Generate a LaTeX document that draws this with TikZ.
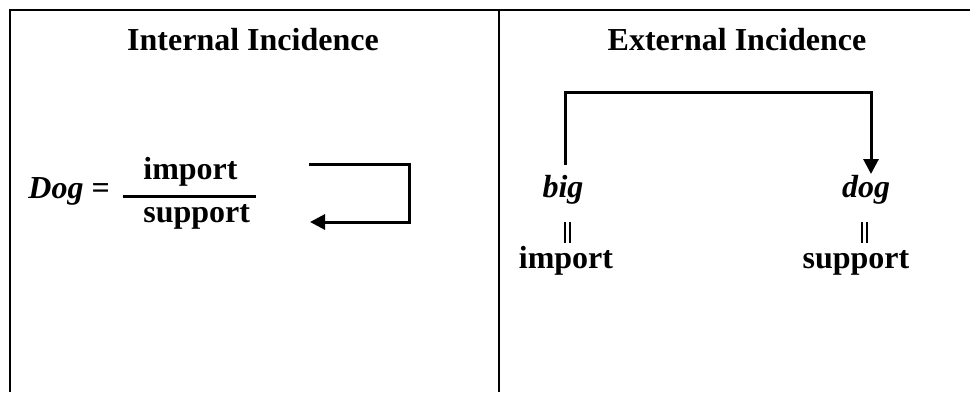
\documentclass[tikz,border=0pt]{standalone}
\usepackage{fontspec}
\setmainfont{Liberation Serif}
\usetikzlibrary{arrows.meta}
\begin{document}
\begin{tikzpicture}[x=0.5pt,y=-0.5pt,
  txt/.style={font=\fontsize{16}{19}\selectfont\bfseries, inner sep=0pt, anchor=base},
  frame/.style={line width=1pt},
  conn/.style={line width=1.5pt},
  arr/.style={line width=1.5pt, -{Triangle[length=7.5pt,width=7.5pt]}},
  bar/.style={line width=1pt}]
\useasboundingbox (0,0) rectangle (970,392);
% frame
\draw[frame] (9.5,392) -- (9.5,9.5) -- (970,9.5);
\draw[frame] (499,9.5) -- (499,392);
% titles
\node[txt] (t1) at (253,50) {Internal Incidence};
\node[txt] (t2) at (737,50) {External Incidence};
% left: Dog = import/support
\node[txt, anchor=base west] (dog) at (28,198) {\textit{Dog} =};
\node[txt, anchor=base west] (num) at (143,179) {import};
\node[txt, anchor=base west] (den) at (143,222) {support};
\coordinate (f1) at (123,196);
\coordinate (f2) at (256,196);
\draw[conn] (f1) -- (f2);
\coordinate (l1) at (309,164);
\coordinate (l2) at (409,164);
\coordinate (l3) at (409,222);
\coordinate (l4) at (310,222);
\draw[arr] (l1) -- (l2) -- (l3) -- (l4);
% right
\node[txt] (big) at (563,197) {\textit{big}};
\node[txt] (dg) at (866,197) {\textit{dog}};
\node[txt] (imp) at (566,268) {import};
\node[txt] (sup) at (856,268) {support};
\coordinate (r1) at (565,165);
\coordinate (r2) at (565,92);
\coordinate (r3) at (871,92);
\coordinate (r4) at (871,174);
\draw[arr] (r1) -- (r2) -- (r3) -- (r4);
\coordinate (b1) at (565,222); \coordinate (b2) at (565,243);
\coordinate (b3) at (570,222); \coordinate (b4) at (570,243);
\draw[bar] (b1) -- (b2); \draw[bar] (b3) -- (b4);
\coordinate (c1) at (862,222); \coordinate (c2) at (862,243);
\coordinate (c3) at (867,222); \coordinate (c4) at (867,243);
\draw[bar] (c1) -- (c2); \draw[bar] (c3) -- (c4);
\end{tikzpicture}
\end{document}
